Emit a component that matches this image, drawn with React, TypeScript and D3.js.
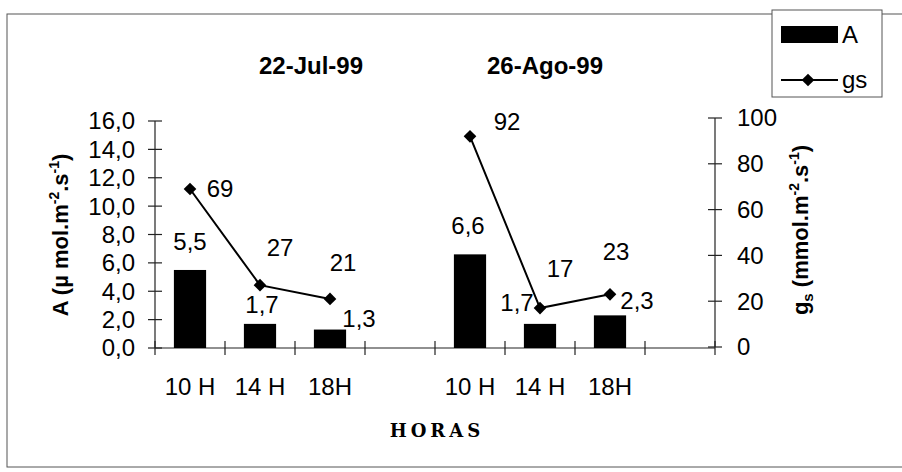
import React from "react";
import * as d3 from "d3";

// ---- data ----
const dates = ["22-Jul-99", "26-Ago-99"];
const hours = ["10 H", "14 H", "18H"];
const aJul = [5.5, 1.7, 1.3];
const aAgo = [6.6, 1.7, 2.3];
const gsJul = [69, 27, 21];
const gsAgo = [92, 17, 23];
const aTicks = [0, 2, 4, 6, 8, 10, 12, 14, 16];
const gsTicks = [0, 20, 40, 60, 80, 100];
const slots = ["j10", "j14", "j18", "gap1", "a10", "a14", "a18", "gap2"];
const slotLabels = [hours[0], hours[1], hours[2], "", hours[0], hours[1], hours[2], ""];

// label offsets (style only)
const aLabelOffsets = [
  [0, -20], [2, -11], [29, -3],
  [-2, -20], [-23, -13], [27, -6],
];
const gsLabelOffsets = [
  [30, 8], [20, -29], [13, -28],
  [37, -6], [20, -31], [6, -34],
];

const W = 902;
const H = 472;
const FONT = "'Liberation Sans', Arial, sans-serif";

export default function App() {
  const x = d3.scaleBand<string>().domain(slots).range([155, 715]).padding(0);
  const yA = d3.scaleLinear().domain([0, 16]).range([348, 121]);
  const yG = d3.scaleLinear().domain([0, 100]).range([347, 118]);
  const bw = x.bandwidth() * 0.46;

  const groups = [
    { keys: slots.slice(0, 3), a: aJul, gs: gsJul },
    { keys: slots.slice(4, 7), a: aAgo, gs: gsAgo },
  ];

  const line = d3
    .line<[number, number]>()
    .x((d) => d[0])
    .y((d) => d[1]);
  const diamond = d3.symbol().type(d3.symbolSquare).size(80)();
  const fmtA = (v: number) => d3.format(".1f")(v).replace(".", ",");
  const cx = (k: string) => (x(k) as number) + x.bandwidth() / 2;

  const tickXs = [...slots.map((s) => x(s) as number), 715];

  return (
    <div style={{ position: "absolute", left: 0, top: 0, background: "#fff" }}>
      <svg width={W} height={H} style={{ display: "block", fontFamily: FONT }}>
        <rect x={0} y={0} width={W} height={H} fill="#fff" />
        <rect x={7} y={14} width={900} height={453} fill="none" stroke="#555" strokeWidth={1} />

        {/* titles */}
        <text x={311} y={74} textAnchor="middle" fontSize={24} fontWeight="bold">{dates[0]}</text>
        <text x={545} y={74} textAnchor="middle" fontSize={24} fontWeight="bold">{dates[1]}</text>

        {/* left axis */}
        <line x1={155} x2={155} y1={yA(16)} y2={yA(0)} stroke="#222" strokeWidth={1.2} />
        {aTicks.map((t) => (
          <g key={"a" + t}>
            <line x1={148} x2={162} y1={yA(t)} y2={yA(t)} stroke="#222" strokeWidth={1.2} />
            <text x={135} y={yA(t)} dy="0.35em" textAnchor="end" fontSize={24}>{fmtA(t)}</text>
          </g>
        ))}

        {/* right axis */}
        <line x1={715} x2={715} y1={yG(100)} y2={yG(0)} stroke="#222" strokeWidth={1.2} />
        {gsTicks.map((t) => (
          <g key={"g" + t}>
            <line x1={708} x2={722} y1={yG(t)} y2={yG(t)} stroke="#222" strokeWidth={1.2} />
            <text x={737} y={yG(t)} dy="0.35em" textAnchor="start" fontSize={24}>{t}</text>
          </g>
        ))}

        {/* x axis */}
        <line x1={155} x2={715} y1={348} y2={348} stroke="#222" strokeWidth={1.2} />
        {tickXs.map((tx, i) => (
          <line key={"xt" + i} x1={tx} x2={tx} y1={341} y2={355} stroke="#222" strokeWidth={1.2} />
        ))}
        {slots.map((s, i) => (
          <text key={"xl" + s} x={cx(s)} y={395} textAnchor="middle" fontSize={24}>{slotLabels[i]}</text>
        ))}

        {/* bars */}
        {groups.map((g) =>
          g.keys.map((k, i) => (
            <rect key={"b" + k} x={cx(k) - bw / 2} y={yA(g.a[i])} width={bw} height={yA(0) - yA(g.a[i])} fill="#000" />
          ))
        )}
        {/* bar labels */}
        {groups.map((g, gi) =>
          g.keys.map((k, i) => {
            const o = aLabelOffsets[gi * 3 + i];
            return (
              <text key={"bl" + k} x={cx(k) + o[0]} y={yA(g.a[i]) + o[1]} textAnchor="middle" fontSize={24}>
                {fmtA(g.a[i])}
              </text>
            );
          })
        )}

        {/* gs lines */}
        {groups.map((g, gi) => {
          const pts: [number, number][] = g.keys.map((k, i) => [cx(k), yG(g.gs[i])]);
          return (
            <g key={"l" + gi}>
              <path d={line(pts) || ""} fill="none" stroke="#000" strokeWidth={2} />
              {pts.map((p, i) => (
                <path key={i} d={diamond || ""} transform={`translate(${p[0]},${p[1]}) rotate(45)`} fill="#000" />
              ))}
              {pts.map((p, i) => {
                const o = gsLabelOffsets[gi * 3 + i];
                return (
                  <text key={"t" + i} x={p[0] + o[0]} y={p[1] + o[1]} textAnchor="middle" fontSize={24}>
                    {g.gs[i]}
                  </text>
                );
              })}
            </g>
          );
        })}

        {/* axis titles */}
        <text transform="translate(68,235) rotate(-90)" textAnchor="middle" fontSize={22} fontWeight="bold">
          A (µ mol.m<tspan dy={-9} fontSize={14}>-2</tspan>
          <tspan dy={9}>.s</tspan>
          <tspan dy={-9} fontSize={14}>-1</tspan>
          <tspan dy={9}>)</tspan>
        </text>
        <text transform="translate(808,230) rotate(-90)" textAnchor="middle" fontSize={22} fontWeight="bold">
          g<tspan dy={5} fontSize={15}>s</tspan>
          <tspan dy={-5}> (mmol.m</tspan>
          <tspan dy={-9} fontSize={14}>-2</tspan>
          <tspan dy={9}>.s</tspan>
          <tspan dy={-9} fontSize={14}>-1</tspan>
          <tspan dy={9}>)</tspan>
        </text>

        <text x={437} y={437} textAnchor="middle" fontSize={18} fontWeight="bold"
          fontFamily="'DejaVu Serif', 'Liberation Serif', serif" letterSpacing={4}>HORAS</text>

        {/* legend */}
        <rect x={772} y={10} width={110} height={87} fill="#fff" stroke="#555" strokeWidth={1} />
        <rect x={781} y={26} width={57} height={17} fill="#000" />
        <text x={842} y={43} fontSize={24}>A</text>
        <line x1={781} x2={838} y1={80} y2={80} stroke="#000" strokeWidth={2} />
        <path d={diamond || ""} transform="translate(808,80) rotate(45)" fill="#000" />
        <text x={842} y={88} fontSize={24}>gs</text>
      </svg>
    </div>
  );
}
